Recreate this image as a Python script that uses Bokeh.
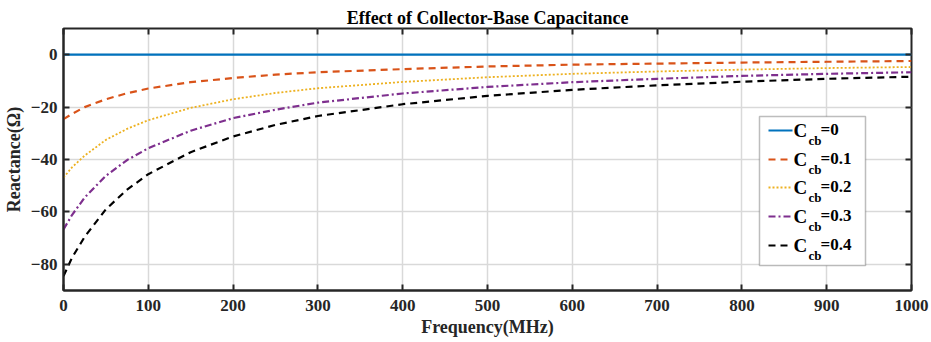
from bokeh.plotting import figure
from bokeh.models import (LinearAxis, FixedTicker, Range1d, Label, BoxAnnotation, Arrow, Title,
                          CustomJSTickFormatter)
from bokeh.embed import file_html
from bokeh.resources import INLINE

# ---- data ----
freq = [0, 10, 25, 50, 75, 100, 150, 200, 250, 300, 400, 500, 600, 700, 800, 900, 1000]
x_cb0 = [0] * len(freq)
x_cb01 = [-24.6, -22.6, -20.0, -17.0, -14.7, -12.9, -10.5, -8.9, -7.6, -6.7, -5.5, -4.5, -3.8, -3.4, -3.0, -2.7, -2.4]
x_cb02 = [-46.9, -43.0, -38.5, -32.5, -28.3, -25.0, -20.3, -17.0, -14.6, -12.8, -10.4, -8.6, -7.3, -6.4, -5.7, -5.1, -4.7]
x_cb03 = [-66.7, -61.2, -54.5, -46.2, -40.2, -35.7, -29.0, -24.2, -21.0, -18.3, -14.8, -12.3, -10.5, -9.2, -8.1, -7.3, -6.7]
x_cb04 = [-84.5, -77.5, -69.5, -59.0, -51.5, -45.6, -37.2, -31.2, -26.8, -23.4, -18.9, -15.7, -13.4, -11.7, -10.3, -9.2, -8.4]
legend_values = ["0", "0.1", "0.2", "0.3", "0.4"]
x_ticks = [0, 100, 200, 300, 400, 500, 600, 700, 800, 900, 1000]
y_ticks = [-80, -60, -40, -20, 0]

FONT = "Liberation Serif"

p = figure(width=931, height=342, output_backend="svg", toolbar_location=None,
           x_range=Range1d(0, 1000), y_range=Range1d(-90, 10),
           min_border_left=63, min_border_right=20, min_border_top=28, min_border_bottom=52)
p.title = Title(text="Effect of Collector-Base Capacitance", align="center",
                text_font=FONT, text_font_size="18px", text_font_style="bold",
                text_color="#000000", offset=0, standoff=2)
p.outline_line_color = "#262626"
p.outline_line_width = 2
p.outline_line_alpha = 1

for ax in [p.xaxis[0], p.yaxis[0]]:
    ax.major_label_text_font = FONT
    ax.major_label_text_font_size = "17px"
    ax.major_label_text_font_style = "bold"
    ax.major_label_text_color = "#262626"
    ax.axis_label_text_font = FONT
    ax.axis_label_text_font_size = "18px"
    ax.axis_label_text_font_style = "bold"
    ax.axis_label_text_color = "#262626"
    ax.major_tick_in = 6
    ax.major_tick_out = 0
    ax.minor_tick_line_color = None
    ax.axis_line_color = "#262626"
    ax.axis_line_width = 2
    ax.major_tick_line_color = "#262626"
    ax.major_tick_line_width = 2
p.xaxis[0].ticker = FixedTicker(ticks=x_ticks)
p.yaxis[0].ticker = FixedTicker(ticks=y_ticks)
p.xaxis[0].axis_label = "Frequency(MHz)"
p.yaxis[0].axis_label = "Reactance(Ω)"
p.xaxis[0].major_label_standoff = 9
p.yaxis[0].major_label_standoff = 6
p.xaxis[0].axis_label_standoff = 3
p.yaxis[0].axis_label_standoff = 4

for loc, ticks in [("above", x_ticks), ("right", y_ticks)]:
    ax = LinearAxis(ticker=FixedTicker(ticks=ticks),
                    formatter=CustomJSTickFormatter(code="return ''"),
                    major_tick_in=6, major_tick_out=0, minor_tick_line_color=None,
                    axis_line_color=None, major_tick_line_color="#262626",
                    major_tick_line_width=2, major_label_standoff=0)
    p.add_layout(ax, loc)

p.grid.grid_line_color = "#d9d9d9"
p.grid.grid_line_width = 1.5
p.xgrid.ticker = FixedTicker(ticks=x_ticks)
p.ygrid.ticker = FixedTicker(ticks=y_ticks)

styles = [
    (x_cb0, "#0072BD", "solid", 2.2),
    (x_cb01, "#D95319", "7 5", 2.2),
    (x_cb02, "#EDB120", "2 2", 1.8),
    (x_cb03, "#7E2F8E", "7 3 2 3", 2.2),
    (x_cb04, "#000000", "7 5", 2.2),
]
for ys, col, dash, w in styles:
    p.line(freq, ys, line_color=col, line_dash=dash, line_width=w)

# ---- legend (screen units, relative to frame) ----
box = BoxAnnotation(left=696, right=802, top=174, bottom=25,
                    left_units="screen", right_units="screen", top_units="screen", bottom_units="screen",
                    fill_color="white", fill_alpha=1, line_color="#262626", line_width=1.5)
p.add_layout(box)
row_y = [160, 131, 103, 74, 45]
for (ys, col, dash, w), yy, val in zip(styles, row_y, legend_values):
    p.add_layout(Arrow(x_start=705, y_start=yy, x_end=729, y_end=yy, start_units="screen", end_units="screen",
                       end=None, start=None, line_color=col, line_dash=dash, line_width=w))
    p.add_layout(Label(x=730, y=yy, x_units="screen", y_units="screen", text="C",
                       text_font=FONT, text_font_size="19px", text_font_style="bold",
                       text_baseline="middle", text_color="#000000"))
    p.add_layout(Label(x=745, y=yy - 10, x_units="screen", y_units="screen", text="cb",
                       text_font=FONT, text_font_size="13px", text_font_style="bold",
                       text_baseline="middle", text_color="#000000"))
    p.add_layout(Label(x=757, y=yy + 1, x_units="screen", y_units="screen", text="=" + val,
                       text_font=FONT, text_font_size="17px", text_font_style="bold",
                       text_baseline="middle", text_color="#000000"))

open("out.html", "w").write(file_html(p, INLINE))
